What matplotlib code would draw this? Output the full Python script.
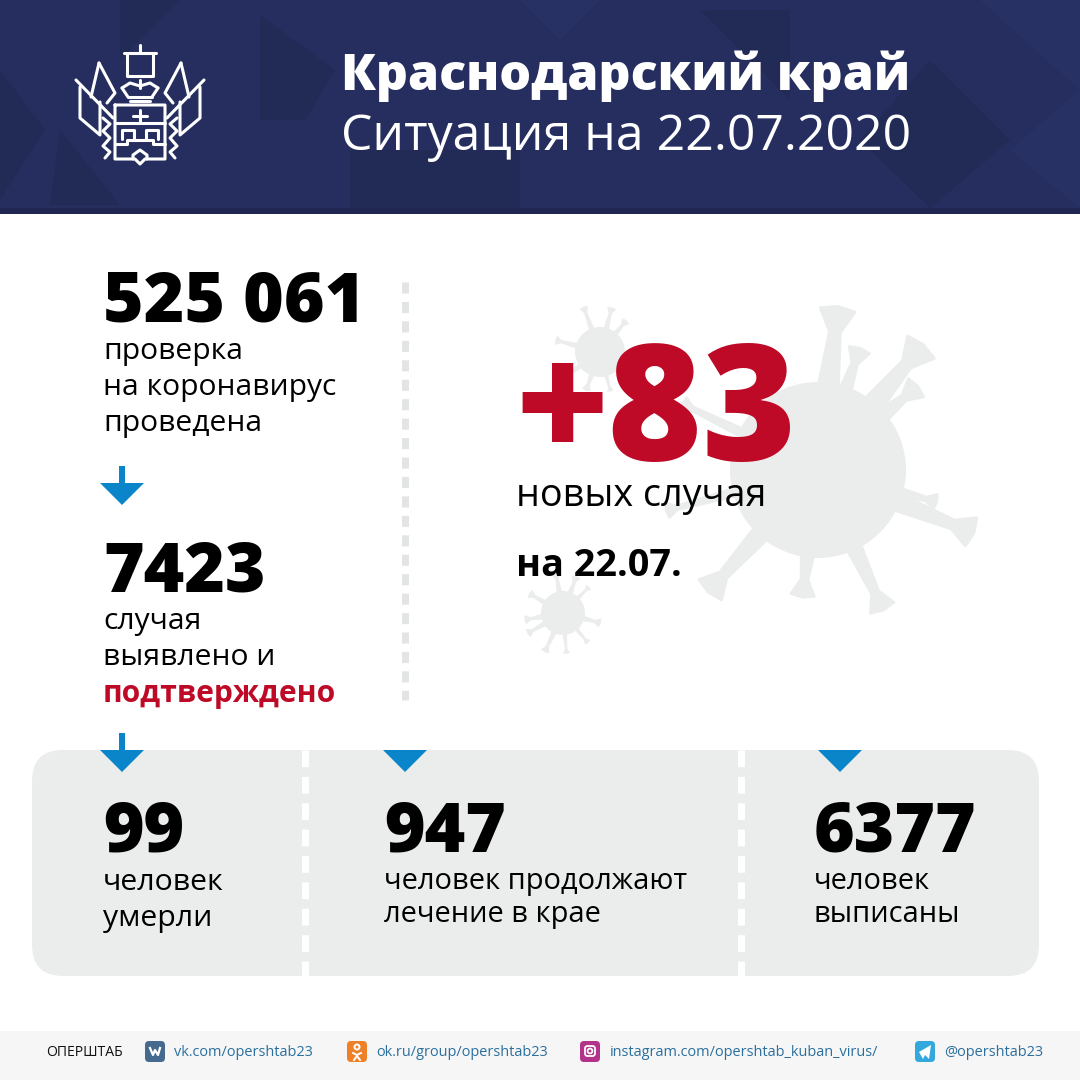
import numpy as np
import matplotlib
matplotlib.use('Agg')
import matplotlib.pyplot as plt
from matplotlib.patches import Circle, FancyBboxPatch, Polygon, Rectangle

# Texts and values
title = 'Краснодарский край'
subtitle = 'Ситуация на 22.07.2020'
tests = '525 061'
tests_label = ['проверка', 'на коронавирус', 'проведена']
cases = '7423'
cases_label = ['случая', 'выявлено и']
cases_label_red = 'подтверждено'
new_cases = '+83'
new_label = 'новых случая'
new_date = 'на 22.07.'
box_values = ['99', '947', '6377']
box_labels = [['человек', 'умерли'], ['человек продолжают', 'лечение в крае'], ['человек', 'выписаны']]
footer_name = 'ОПЕРШТАБ'
footer_links = ['vk.com/opershtab23', 'ok.ru/group/opershtab23',
                'instagram.com/opershtab_kuban_virus/', '@opershtab23']

NAVY = '#252e5e'
NAVY2 = '#222a56'
NAVY3 = '#283163'
RED = '#be0a26'
BLUE = '#0a85c9'
GREY = '#ebeded'
LINK = '#2a6f9e'

plt.rcParams['font.family'] = ['Open Sans', 'DejaVu Sans']

fig = plt.figure(figsize=(10.8, 10.8), dpi=100)
ax = fig.add_axes([0, 0, 1, 1])


def label(x, y, s, px, weight='normal', color='black', **kw):
    # y is the baseline, px is the font size in pixels
    return ax.text(x, y, s, fontsize=px * 0.72, fontweight=weight, color=color,
                   va='baseline', ha='left', zorder=5, **kw)


def virus(cx, cy, r, spikes):
    ax.add_patch(Circle((cx, cy), r, color=GREY, lw=0, zorder=1))
    for deg, length, width in spikes:
        a = np.radians(deg)
        ux, uy = np.cos(a), -np.sin(a)
        tx, ty = cx + ux * length, cy + uy * length
        px, py = -uy, ux
        bx, by = cx + ux * r * 0.9, cy + uy * r * 0.9
        nx, ny = tx - ux * width * 1.3, ty - uy * width * 1.3
        # stem widens at the base, head flares out at the tip
        ax.add_patch(Polygon([(bx + px * width * .6, by + py * width * .6),
                              (nx + px * width * .3, ny + py * width * .3),
                              (tx + px * width, ty + py * width),
                              (tx + ux * width * .2, ty + uy * width * .2),
                              (tx - px * width, ty - py * width),
                              (nx - px * width * .3, ny - py * width * .3),
                              (bx - px * width * .6, by - py * width * .6)],
                             closed=True, facecolor=GREY, edgecolor=GREY, lw=max(.5, width * .15),
                             joinstyle='round', zorder=1))


# header
ax.add_patch(Rectangle((0, 0), 1080, 214, color=NAVY, lw=0, zorder=0))
ax.add_patch(Rectangle((0, 208), 1080, 6, color='#1f2750', lw=0, zorder=0))
for pts, c in [([(120, 0), (180, 0), (120, 60)], NAVY2),
               ([(260, 15), (335, 70), (305, 120), (260, 120)], NAVY2),
               ([(0, 70), (45, 130), (0, 200)], NAVY2),
               ([(60, 130), (120, 205), (50, 205)], NAVY2),
               ([(520, 0), (600, 0), (560, 40)], NAVY3),
               ([(700, 10), (790, 10), (790, 100)], NAVY2),
               ([(930, 60), (1010, 140), (930, 208), (860, 140)], NAVY2),
               ([(980, 0), (1080, 0), (1080, 90)], NAVY3),
               ([(350, 150), (520, 150), (520, 208), (350, 208)], NAVY2),
               ([(1010, 150), (1080, 90), (1080, 208)], NAVY3)]:
    ax.add_patch(Polygon(pts, closed=True, color=c, lw=0, zorder=0))

# coat of arms, left half is mirrored around x = 140
centre = [[(124, 53), (156, 53)], [(127, 53), (127, 76), (153, 76), (153, 53)], [(140, 45), (140, 53)],
          [(115, 105), (115, 159), (135, 159), (140, 164), (145, 159), (165, 159), (165, 105), (115, 105)],
          [(115, 123), (165, 123)],
          [(115, 144), (127, 144), (127, 140), (153, 140), (153, 144), (165, 144)],
          [(128, 97), (152, 97)], [(130, 101), (150, 101)],
          [(133, 116), (147, 116)], [(140, 110), (140, 123)],
          [(133, 159), (133, 155), (140, 150), (147, 155), (147, 159)],
          [(122, 88), (128, 97)], [(158, 88), (152, 97)],
          [(122, 88), (130, 83), (140, 86), (150, 83), (158, 88)], [(140, 80), (140, 88)]]
side = [[(76, 80), (113, 118)], [(80, 87), (80, 118), (100, 135), (100, 102)],
        [(99, 63), (91, 97)], [(99, 63), (115, 93), (107, 103)],
        [(103, 118), (110, 124), (103, 131), (110, 138), (103, 146), (110, 152), (105, 158)],
        [(122, 139), (122, 130), (134, 130), (134, 139)]]
mirror = [[(280 - x, y) for x, y in seg] for seg in side]
for seg in centre + side + mirror:
    seg = np.array(seg)
    ax.plot(seg[:, 0], seg[:, 1], color='white', lw=2.2, solid_capstyle='round', solid_joinstyle='round', zorder=3)

label(341, 90, title, 50, weight=800, color='white')
label(341, 150, subtitle, 50, color='white')

# viruses behind the +83
virus(818, 470, 88, [(83, 161, 17), (50, 160, 17), (71, 127, 11), (40, 128, 12), (-22, 165, 15),
                     (-15, 122, 8), (-65, 152, 13), (-97, 126, 12), (-132, 161, 15), (-165, 156, 8), (154, 150, 8)])
virus(600, 352, 25, [(110, 47, 4), (75, 45, 4), (50, 40, 4), (165, 45, 4), (-145, 45, 4), (-110, 40, 4), (-75, 40, 3)])
virus(563, 613, 22, [(100, 40, 4), (70, 38, 4), (45, 36, 3), (150, 38, 4), (190, 38, 4), (-150, 40, 4),
                     (-115, 42, 4), (-85, 40, 3), (-50, 38, 3), (-15, 38, 4)])

# left column
label(103, 322, tests, 69.5, weight=800)
for i, s in enumerate(tests_label):
    label(103, 359 + i * 36, s, 30)
label(103, 592, cases, 69.5, weight=800)
for i, s in enumerate(cases_label):
    label(103, 629 + i * 36, s, 30)
label(103, 702, cases_label_red, 30, weight='bold', color=RED)

# vertical dotted divider
ax.plot([405, 405], [282, 700], color='#e3e4e4', lw=5, dashes=(1.6, 1.2), zorder=1)

# new cases
label(516, 460, new_cases, 161.5, weight=800, color=RED)
label(516, 506, new_label, 37.8)
label(516, 576, new_date, 37.8, weight='bold')

# grey box
ax.add_patch(FancyBboxPatch((32, 750), 1007, 226, boxstyle='round,pad=0,rounding_size=31', color=GREY, lw=0, zorder=1))
for x in [305, 741]:
    ax.plot([x, x], [750, 976], color='white', lw=5, dashes=(2.4, 1.4), zorder=2)

# arrows
for x, y0, y1, y2 in [(122, 466, 483, 505), (122, 733, 750, 772)]:
    ax.add_patch(Rectangle((x - 3, y0), 6, y1 - y0, color=BLUE, lw=0, zorder=3))
    ax.add_patch(Polygon([(x - 22, y1), (x + 22, y1), (x, y2)], closed=True, color=BLUE, lw=0, zorder=3))
for x in [405, 840]:
    ax.add_patch(Polygon([(x - 22, 750), (x + 22, 750), (x, 772)], closed=True, color=BLUE, lw=0, zorder=3))

# numbers in the box
for x, v, ls in zip([103, 384, 814], box_values, box_labels):
    label(x, 851, v, 69.5, weight=800)
    for i, s in enumerate(ls):
        if x == 103:
            label(x, 890 + i * 36, s, 30.2)
        else:
            label(x, 889 + i * 33, s, 29)

# footer
ax.add_patch(Rectangle((0, 1031), 1080, 49, color='#f6f6f6', lw=0, zorder=0))
label(46, 1056, footer_name, 14, color='#111111')
for x, c, s, tx in zip([145, 347, 580, 915], ['#46698f', '#ee8127', '#b4338a', '#33a8dc'], footer_links,
                       [174, 376, 610, 944]):
    ax.add_patch(FancyBboxPatch((x + 2, 1043), 16, 17, boxstyle='round,pad=2,rounding_size=4', color=c, lw=0, zorder=3))
    label(tx, 1056, s, 14.5, color=LINK)

# footer icon glyphs
ax.plot([150, 153, 155, 158, 160], [1048, 1055, 1050, 1055, 1048], color='white', lw=1.6, zorder=4)
ax.add_patch(Circle((357, 1047), 2.5, fill=False, ec='white', lw=1.4, zorder=4))
ax.plot([353, 357, 361], [1053, 1055, 1053], color='white', lw=1.4, zorder=4)
ax.plot([354, 357, 360], [1060, 1056, 1060], color='white', lw=1.4, zorder=4)
ax.add_patch(FancyBboxPatch((585, 1046), 10, 10, boxstyle='round,pad=0,rounding_size=2.5', fill=False, ec='white', lw=1.3, zorder=4))
ax.add_patch(Circle((590, 1051), 2.4, fill=False, ec='white', lw=1.3, zorder=4))
ax.add_patch(Polygon([(919, 1052), (931, 1045), (929, 1059), (925, 1055), (923, 1059)], closed=True, color='white', lw=0, zorder=4))

ax.set_xlim(0, 1080)
ax.set_ylim(1080, 0)
ax.axis('off')

fig.savefig('out.png', dpi=100)
